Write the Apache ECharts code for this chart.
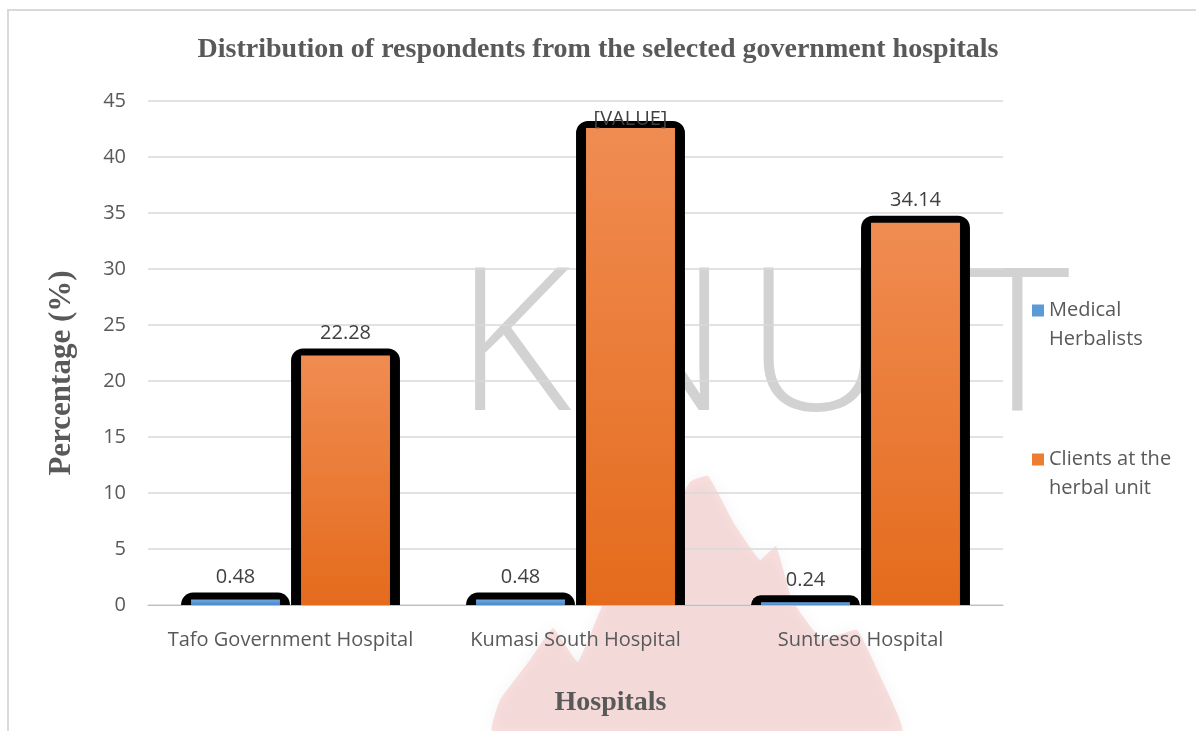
<!DOCTYPE html>
<html>
<head>
<meta charset="utf-8">
<script src="https://cdn.jsdelivr.net/npm/echarts@6/dist/echarts.min.js"></script>
<style>html,body{margin:0;padding:0;background:#fff}#c{width:1196px;height:731px}</style>
</head>
<body>
<div id="c"></div>
<script>
const categories = ['Tafo Government Hospital', 'Kumasi South Hospital', 'Suntreso Hospital'];
const medicalHerbalists = [0.48, 0.48, 0.24];
const clientsHerbalUnit = [22.28, 42.6, 34.14];
const clientsLabelOverride = { 1: '[VALUE]' };
const seriesNames = ['Medical Herbalists', 'Clients at the herbal unit'];
const legendLabels = [' \nMedical\nHerbalists', ' \nClients at the\nherbal unit'];
const yTicks = [0, 5, 10, 15, 20, 25, 30, 35, 40, 45];

const sansFont = '"Open Sans", "Liberation Sans", sans-serif';
const serifFont = '"Liberation Serif", "Times New Roman", serif';

const chart = echarts.init(document.getElementById('c'));

function grad(top, bottom) {
  return new echarts.graphic.LinearGradient(0, 0, 0, 1, [
    { offset: 0, color: top }, { offset: 1, color: bottom }
  ]);
}

const fills = [['#6ea8de', '#4a89c8'], ['#f08c52', '#e46b1c']];
const overrides = [{}, clientsLabelOverride];

function makeRender(si) {
  return function (params, api) {
    const cat = api.value(0), val = api.value(1);
    const base = api.coord([cat, 0]);
    const top = api.coord([cat, val]);
    const band = api.size([1, 0])[0];
    const cx = base[0] + (si === 0 ? -1 : 1) * band * 0.193;
    const innerW = band * 0.312, side = 10, topB = 7;
    const h = base[1] - top[1];
    const isOverride = overrides[si][params.dataIndex] !== undefined;
    const txt = isOverride ? overrides[si][params.dataIndex] : String(val);
    return {
      type: 'group',
      children: [
        { type: 'rect', shape: { x: cx - innerW / 2 - side, y: top[1] - topB, width: innerW + 2 * side, height: h + topB, r: [12, 12, 0, 0] },
          style: { fill: '#000' } },
        { type: 'rect', shape: { x: cx - innerW / 2, y: top[1], width: innerW, height: h },
          style: { fill: grad(fills[si][0], fills[si][1]) } },
        { type: 'text', z2: 10,
          style: { text: txt, x: cx, y: top[1] - (isOverride ? 9 : 22.5), align: 'center', verticalAlign: 'middle',
            fill: '#404040', font: '20px ' + sansFont } }
      ]
    };
  };
}

const watermarkLetters = [
  { t: 'K', x: 455 }, { t: 'N', x: 585 }, { t: 'U', x: 745 }, { t: 'S', x: 860 }, { t: 'T', x: 965 }
];

chart.setOption({
  backgroundColor: '#ffffff',
  animation: false,
  title: {
    text: 'Distribution of respondents from the selected government hospitals',
    left: 'center', top: 31,
    textStyle: { fontFamily: serifFont, fontWeight: 'bold', fontSize: 28, color: '#595959' }
  },
  graphic: [
    { type: 'polyline', z: -20, silent: true,
      shape: { points: [[8, 731], [8, 10], [1196, 10]] },
      style: { stroke: '#d9d9d9', lineWidth: 2, fill: null } },
    { type: 'polygon', z: -15, silent: true,
      shape: { smooth: 0.1, points: [[492,731],[500,700],[530,660],[553,628],[578,662],[605,600],[645,560],[690,482],[708,476],[735,525],[760,560],[776,546],[792,600],[822,640],[857,630],[882,680],[902,731]] },
      style: { fill: 'rgba(238,140,135,0.25)', shadowBlur: 14, shadowColor: 'rgba(130,130,130,0.35)' } }
  ].concat(watermarkLetters.map(l => ({
    type: 'text', z: -10, silent: true, left: l.x, top: 253,
    style: { text: l.t, fontFamily: sansFont, fontWeight: 300, fontSize: 200, fill: '#d2d2d2' }
  }))),
  legend: {
    orient: 'vertical', left: 1027, top: 262,
    itemWidth: 12, itemHeight: 12, itemGap: 62,
    icon: 'rect',
    data: [
      { name: seriesNames[0], itemStyle: { color: '#5b9bd5' } },
      { name: seriesNames[1], itemStyle: { color: '#ed7d31' } }
    ],
    formatter: name => legendLabels[seriesNames.indexOf(name)],
    textStyle: { fontFamily: sansFont, fontSize: 20, color: '#595959', lineHeight: 29 }
  },
  grid: { left: 148, right: 193, top: 101, bottom: 126, containLabel: false },
  xAxis: {
    type: 'category', data: categories,
    name: 'Hospitals', nameLocation: 'middle', nameGap: 84,
    nameTextStyle: { fontFamily: serifFont, fontWeight: 'bold', fontSize: 28, color: '#595959', padding: [0, 0, 0, 70] },
    axisLine: { lineStyle: { color: '#bfbfbf', width: 1 } },
    axisTick: { show: false },
    axisLabel: { interval: 0, fontFamily: sansFont, fontSize: 20, color: '#595959', margin: 25 }
  },
  yAxis: {
    type: 'value', min: 0, max: 45, interval: 5,
    name: 'Percentage (%)', nameLocation: 'middle', nameGap: 71, nameRotate: 90,
    nameTextStyle: { fontFamily: serifFont, fontWeight: 'bold', fontSize: 31, color: '#595959', padding: [0, 40, 0, 0] },
    axisLine: { show: false }, axisTick: { show: false },
    axisLabel: { fontFamily: sansFont, fontSize: 20, color: '#595959', margin: 22,
      formatter: v => yTicks.includes(v) ? String(v) : '' },
    splitLine: { lineStyle: { color: '#d9d9d9', width: 1.5 } }
  },
  series: [
    { name: seriesNames[0], type: 'custom', renderItem: makeRender(0),
      encode: { x: 0, y: 1 }, data: medicalHerbalists.map((v, i) => [i, v]), z: 3 },
    { name: seriesNames[1], type: 'custom', renderItem: makeRender(1),
      encode: { x: 0, y: 1 }, data: clientsHerbalUnit.map((v, i) => [i, v]), z: 3 }
  ]
});
</script>
</body>
</html>
